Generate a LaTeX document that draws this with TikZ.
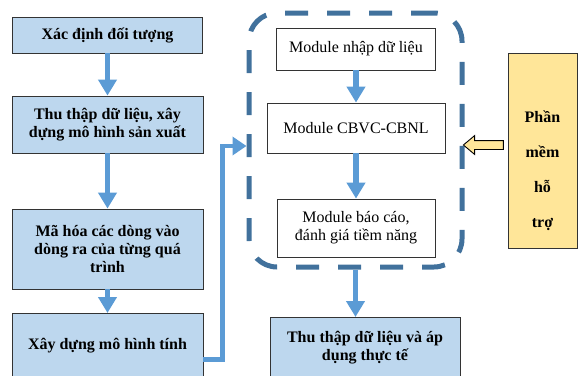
\documentclass[tikz,border=0pt]{standalone}
\usepackage{fontspec}
\setmainfont{Liberation Serif}
\usetikzlibrary{arrows.meta,shapes.arrows,calc}

\definecolor{boxblue}{HTML}{BDD7EE}
\definecolor{arrowblue}{HTML}{5B9BD5}
\definecolor{frameblue}{HTML}{41719C}
\definecolor{softyellow}{HTML}{FFE699}

\begin{document}
\begin{tikzpicture}[x=1pt, y=-1pt,
  every node/.style={font=\fontsize{16}{18}\selectfont, align=center, inner sep=0pt},
  stepbox/.style={rectangle, draw=black!80, line width=0.8pt, fill=boxblue, font=\fontsize{16}{18}\selectfont\bfseries},
  modbox/.style={rectangle, draw=black!80, line width=0.8pt, fill=white},
  flow/.style={draw=arrowblue, line width=5.5pt, -{Triangle[width=18pt, length=16pt]}},
  elbow/.style={draw=arrowblue, line width=4.5pt, -{Triangle[width=18pt, length=14pt]}}]
  \clip (0,0) rectangle (578,375);

  % left column
  \node[stepbox, minimum width=190, minimum height=36] (define) at (107.5,35) {Xác định đối tượng};
  \node[stepbox, minimum width=191, minimum height=57] (collect) at (107.5,124.5) {Thu thập dữ liệu, xây\\dựng mô hình sản xuất};
  \node[stepbox, minimum width=191, minimum height=80] (encode) at (107.5,249) {Mã hóa các dòng vào\\dòng ra của từng quá\\trình};
  \node[stepbox, minimum width=191, minimum height=64, anchor=north] (model) at (107.5,313) {Xây dựng mô hình tính};

  % software modules
  \node[draw=frameblue, line width=5pt, rounded corners=28pt, dash pattern=on 23pt off 19pt,
        minimum width=213, minimum height=254] (frame) at (355.5,140) {};
  \node[modbox, minimum width=159, minimum height=42] (input) at (356,49) {Module nhập dữ liệu};
  \node[modbox, minimum width=178, minimum height=50] (calc) at (356,128) {Module CBVC-CBNL};
  \node[modbox, minimum width=158, minimum height=58] (report) at (356,228) {Module báo cáo,\\đánh giá tiềm năng};

  \node[stepbox, minimum width=190, minimum height=60, anchor=north] (apply) at (365,317) {Thu thập dữ liệu và áp\\dụng thực tế};

  % support software
  \node[rectangle, draw=black!80, line width=0.8pt, fill=softyellow, minimum width=69, minimum height=195] (soft) at (542.5,150.5) {};
  \node[font=\fontsize{16}{35}\selectfont\bfseries] (softtext) at ($(soft.center)+(0,20)$) {Phần\\mềm\\hỗ\\trợ};

  % arrows
  \draw[flow] (define) -- (collect);
  \draw[flow] (collect) -- (encode);
  \draw[flow] (encode) -- (model);
  \draw[flow] (input) -- (calc);
  \draw[flow] (calc) -- (report);
  \draw[flow] (frame.south) -- (frame.south |- apply.north);
  \draw[elbow] ([yshift=-14pt]model.east) -- ++(19,0) |- ([yshift=-6pt]frame.west);
  \node[single arrow, draw=black, line width=0.9pt, fill=softyellow, shape border rotate=180, inner sep=4pt,
        minimum height=40, single arrow head extend=5pt, single arrow tip angle=80] (hint) at ($(frame.east |- 0,145)!0.5!(soft.west |- 0,145)$) {};
\end{tikzpicture}
\end{document}
